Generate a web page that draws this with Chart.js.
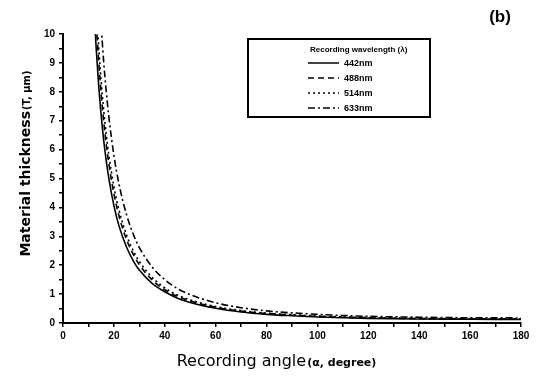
<!DOCTYPE html>
<html>
<head>
<meta charset="utf-8">
<script src="https://cdn.jsdelivr.net/npm/chart.js@4/dist/chart.umd.min.js"></script>
<style>
  html, body { margin: 0; padding: 0; background: #fff; }
  #wrap { position: relative; width: 538px; height: 376px; }
</style>
</head>
<body>
<div id="wrap"><canvas id="thickChart" width="538" height="376"></canvas></div>
<script>
// recording angle (degree)
const angles = [12, 13, 14, 15, 16, 17, 18, 20, 22, 25, 28, 30, 35, 40, 45, 50, 60, 70, 80, 90, 100, 110, 120, 140, 160, 180];

// material thickness (um)
const t442 = [11.2, 9.56, 8.25, 7.19, 6.32, 5.61, 5.01, 4.06, 3.36, 2.62, 2.09, 1.83, 1.37, 1.08, 0.86, 0.71, 0.51, 0.38, 0.30, 0.25, 0.21, 0.18, 0.16, 0.14, 0.13, 0.12];
const t488 = [12.4, 10.5, 9.09, 7.92, 6.97, 6.18, 5.52, 4.48, 3.71, 2.88, 2.31, 2.02, 1.49, 1.15, 0.92, 0.76, 0.54, 0.41, 0.33, 0.27, 0.23, 0.20, 0.18, 0.15, 0.14, 0.135];
const t514 = [13.0, 11.1, 9.60, 8.37, 7.36, 6.52, 5.82, 4.73, 3.91, 3.04, 2.43, 2.13, 1.58, 1.22, 0.97, 0.80, 0.57, 0.43, 0.34, 0.29, 0.24, 0.21, 0.19, 0.16, 0.15, 0.14];
const t633 = [16.0, 13.7, 11.8, 10.3, 9.03, 8.01, 7.15, 5.80, 4.81, 3.74, 2.99, 2.61, 1.94, 1.50, 1.19, 0.98, 0.70, 0.53, 0.42, 0.35, 0.30, 0.26, 0.23, 0.20, 0.18, 0.175];

const seriesLabels = ['442nm', '488nm', '514nm', '633nm'];
const dashes = [[], [6, 4], [2, 3], [7, 3, 2, 3]];

const pts = arr => arr.map((v, i) => ({ x: angles[i], y: v }));

const tickFont = { family: 'Arial, "Liberation Sans", sans-serif', size: 10, weight: 'bold' };

// titles, (b) and the boxed legend
const decoPlugin = {
  id: 'deco',
  afterDraw(chart) {
    const ctx = chart.ctx;
    ctx.save();
    ctx.fillStyle = '#000';
    ctx.textBaseline = 'alphabetic';

    // x title
    const xa = 'Recording angle';
    const xb = '(\u03b1, degree)';
    ctx.font = '16px "DejaVu Sans", sans-serif';
    const wa = ctx.measureText(xa).width;
    ctx.font = 'bold 11px "DejaVu Sans", sans-serif';
    const wb = ctx.measureText(xb).width;
    let x0 = 276 - (wa + wb) / 2;
    ctx.font = '16px "DejaVu Sans", sans-serif';
    ctx.fillText(xa, x0, 366);
    ctx.font = 'bold 11px "DejaVu Sans", sans-serif';
    ctx.fillText(xb, x0 + wa + 1, 366);

    // y title
    ctx.save();
    ctx.translate(30, 164);
    ctx.rotate(-Math.PI / 2);
    const ya = 'Material thickness';
    const yb = '(T, \u03bcm)';
    ctx.font = 'bold 14px "DejaVu Sans", sans-serif';
    const wya = ctx.measureText(ya).width;
    ctx.font = 'bold 10px "DejaVu Sans", sans-serif';
    const wyb = ctx.measureText(yb).width;
    const y0 = -(wya + wyb) / 2;
    ctx.font = 'bold 14px "DejaVu Sans", sans-serif';
    ctx.fillText(ya, y0, 0);
    ctx.font = 'bold 10px "DejaVu Sans", sans-serif';
    ctx.fillText(yb, y0 + wya + 1, 0);
    ctx.restore();

    // panel letter
    ctx.font = 'bold 17px Arial, "Liberation Sans", sans-serif';
    ctx.textAlign = 'center';
    ctx.fillText('(b)', 500, 22);
    ctx.textAlign = 'left';

    // legend box
    ctx.lineWidth = 2;
    ctx.strokeStyle = '#000';
    ctx.strokeRect(248, 39, 182, 78);
    ctx.font = 'bold 8px Arial, "Liberation Sans", sans-serif';
    ctx.fillText('Recording wavelength (\u03bb)', 310, 52);
    const rows = [63, 78, 93, 108];
    chart.data.datasets.forEach((ds, i) => {
      ctx.beginPath();
      ctx.lineWidth = 1.5;
      ctx.setLineDash(ds.borderDash || []);
      ctx.moveTo(308, rows[i]);
      ctx.lineTo(339, rows[i]);
      ctx.stroke();
      ctx.setLineDash([]);
      ctx.font = 'bold 9px Arial, "Liberation Sans", sans-serif';
      ctx.fillText(ds.label, 344, rows[i] + 3);
    });
    ctx.restore();
  }
};

new Chart(document.getElementById('thickChart'), {
  type: 'line',
  data: {
    datasets: [t442, t488, t514, t633].map((arr, i) => ({
      label: seriesLabels[i],
      data: pts(arr),
      borderColor: '#000',
      borderWidth: 1.6,
      borderDash: dashes[i],
      pointRadius: 0,
      cubicInterpolationMode: 'monotone',
      fill: false
    }))
  },
  options: {
    animation: false,
    responsive: false,
    maintainAspectRatio: false,
    layout: { padding: { top: 34, right: 17, left: 0, bottom: 0 } },
    plugins: {
      legend: { display: false },
      tooltip: { enabled: false }
    },
    scales: {
      x: {
        type: 'linear',
        min: 0,
        max: 180,
        ticks: {
          stepSize: 10,
          autoSkip: false,
          maxRotation: 0,
          color: '#000',
          font: tickFont,
          padding: 3,
          callback: v => (v % 20 === 0 ? v : '')
        },
        grid: { drawOnChartArea: false, drawTicks: true, tickLength: 4, color: '#000', lineWidth: 1.5 },
        border: { color: '#000', width: 2 },
        afterFit: s => { s.height = 53; }
      },
      y: {
        min: 0,
        max: 10,
        ticks: {
          stepSize: 0.5,
          autoSkip: false,
          color: '#000',
          font: tickFont,
          padding: 4,
          callback: v => (Number.isInteger(v) ? v : '')
        },
        grid: { drawOnChartArea: false, drawTicks: true, tickLength: 4, color: '#000', lineWidth: 1.5 },
        border: { color: '#000', width: 2 },
        afterFit: s => { s.width = 63; }
      }
    }
  },
  plugins: [decoPlugin]
});
</script>
</body>
</html>
